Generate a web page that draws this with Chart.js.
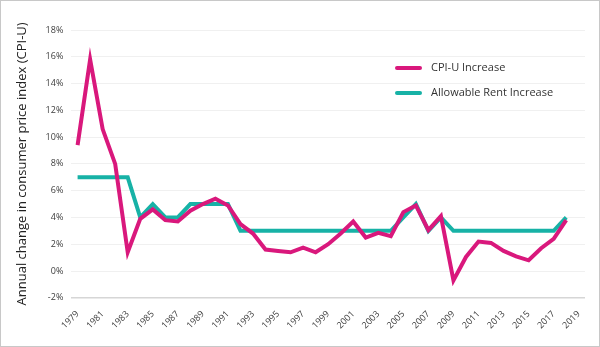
<!DOCTYPE html>
<html>
<head>
<meta charset="utf-8">
<script src="https://cdn.jsdelivr.net/npm/chart.js@4"></script>
<style>
	html, body { margin: 0; padding: 0; background: #fff; }
	#wrap { width: 600px; height: 347px; box-sizing: border-box; border: 1px solid #c8c8c8; }
</style>
</head>
<body>
<div id="wrap"><canvas id="rentChart" width="598" height="345"></canvas></div>
<script>
// Years on the x axis (labels shown every other year)
var years = [];
for (var y = 1979; y <= 2019; y++) years.push(String(y));

// CPI-U annual change, 1979 - 2018
var cpiIncrease = [9.4, 15.8, 10.6, 8.0, 1.4, 3.9, 4.6, 3.8, 3.7, 4.5,
	5.0, 5.4, 4.9, 3.5, 2.8, 1.6, 1.5, 1.4, 1.75, 1.4,
	2.0, 2.8, 3.7, 2.5, 2.85, 2.6, 4.4, 4.9, 3.05, 4.1,
	-0.7, 1.05, 2.2, 2.1, 1.5, 1.1, 0.8, 1.7, 2.4, 3.8];

// Allowable rent increase, 1979 - 2018
var rentIncrease = [7, 7, 7, 7, 7, 4, 5, 4, 4, 5,
	5, 5, 5, 3, 3, 3, 3, 3, 3, 3,
	3, 3, 3, 3, 3, 3, 4, 5, 3, 4,
	3, 3, 3, 3, 3, 3, 3, 3, 3, 4];

var pink = '#d9187c';
var teal = '#17b2a6';

// small legend drawn in the upper right of the plot
var sideLegend = {
	id: 'sideLegend',
	afterDraw: function(chart) {
		var ctx = chart.ctx;
		ctx.save();
		chart.data.datasets.forEach(function(ds, i) {
			var y = 67 + i * 25;
			ctx.strokeStyle = ds.borderColor;
			ctx.lineWidth = 4;
			ctx.lineCap = 'round';
			ctx.beginPath();
			ctx.moveTo(396, y);
			ctx.lineTo(419, y);
			ctx.stroke();
			ctx.fillStyle = '#333';
			ctx.font = '11px "Open Sans", sans-serif';
			ctx.textBaseline = 'middle';
			ctx.fillText(ds.label, 430, y);
		});
		ctx.restore();
	}
};

new Chart(document.getElementById('rentChart'), {
	type: 'line',
	data: {
		labels: years,
		datasets: [
			{
				label: 'CPI-U Increase',
				data: cpiIncrease,
				borderColor: pink,
				backgroundColor: pink,
				borderWidth: 4,
				pointRadius: 0,
				tension: 0
			},
			{
				label: 'Allowable Rent Increase',
				data: rentIncrease,
				borderColor: teal,
				backgroundColor: teal,
				borderWidth: 4,
				pointRadius: 0,
				tension: 0
			}
		]
	},
	options: {
		responsive: false,
		animation: false,
		layout: { padding: { top: 29, right: 14, left: 9, bottom: 12 } },
		plugins: {
			legend: { display: false },
			tooltip: { enabled: false }
		},
		scales: {
			x: {
				offset: true,
				grid: { display: false },
				border: { display: false },
				ticks: {
					autoSkip: false,
					maxRotation: 45,
					minRotation: 45,
					color: '#3c3c3c',
					font: { family: '"Open Sans", sans-serif', size: 9 },
					callback: function(val, i) {
						return i % 2 === 0 ? this.getLabelForValue(val) : '';
					}
				}
			},
			y: {
				min: -2,
				max: 18,
				border: { display: false },
				grid: {
					drawTicks: false,
					color: function(c) { return c.tick.value === -2 ? '#d6d6d6' : '#f0f0f0'; },
					lineWidth: function(c) { return c.tick.value === -2 ? 1.5 : 1; }
				},
				ticks: {
					stepSize: 2,
					padding: 8,
					color: '#3c3c3c',
					font: { family: '"Open Sans", sans-serif', size: 9 },
					callback: function(v) { return v + '%'; }
				},
				title: {
					display: true,
					text: 'Annual change in consumer price index (CPI-U)',
					color: '#222',
					font: { family: '"Open Sans", sans-serif', size: 13 },
					padding: { bottom: 8 }
				}
			}
		}
	},
	plugins: [sideLegend]
});
</script>
</body>
</html>
